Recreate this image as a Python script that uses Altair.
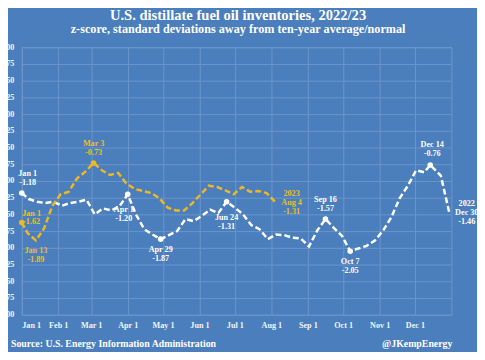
import json
import altair as alt
import pandas as pd

# ---------------- data ----------------
dates_2022 = ["01-01", "01-07", "01-14", "01-21", "01-28", "02-04", "02-11", "02-18", "02-25",
              "03-04", "03-11", "03-18", "03-25", "04-01", "04-08", "04-15", "04-22", "04-29",
              "05-06", "05-13", "05-20", "05-27", "06-03", "06-10", "06-17", "06-24", "07-01",
              "07-08", "07-15", "07-22", "07-29", "08-05", "08-12", "08-19", "08-26", "09-02",
              "09-09", "09-16", "09-23", "09-30", "10-07", "10-14", "10-21", "10-28", "11-04",
              "11-11", "11-18", "11-25", "12-02", "12-09", "12-14", "12-23", "12-30"]
values_2022 = [-1.18, -1.27, -1.31, -1.33, -1.31, -1.37, -1.33, -1.31, -1.28,
               -1.50, -1.41, -1.44, -1.38, -1.20, -1.50, -1.72, -1.80, -1.87,
               -1.81, -1.75, -1.57, -1.60, -1.52, -1.43, -1.48, -1.31, -1.40,
               -1.50, -1.66, -1.72, -1.87, -1.80, -1.81, -1.85, -1.86, -1.98,
               -1.74, -1.57, -1.70, -1.82, -2.05, -2.01, -1.97, -1.89, -1.74,
               -1.54, -1.26, -1.07, -0.84, -0.87, -0.76, -0.92, -1.46]

dates_2023 = ["01-01", "01-06", "01-13", "01-20", "01-27", "02-03", "02-10", "02-17", "02-24",
              "03-03", "03-10", "03-17", "03-24", "03-31", "04-07", "04-14", "04-21", "04-28",
              "05-05", "05-12", "05-19", "05-26", "06-02", "06-09", "06-16", "06-23", "06-30",
              "07-07", "07-14", "07-21", "07-28", "08-04"]
values_2023 = [-1.62, -1.78, -1.89, -1.71, -1.37, -1.20, -1.16, -0.96, -0.86,
               -0.73, -0.84, -0.91, -0.88, -1.04, -1.12, -1.15, -1.18, -1.26,
               -1.40, -1.44, -1.44, -1.33, -1.20, -1.07, -1.09, -1.14, -1.20,
               -1.09, -1.16, -1.15, -1.18, -1.31]

marked_2022 = ["01-01", "04-01", "04-29", "06-24", "09-16", "10-07", "12-14"]
marked_2023 = ["01-01", "03-03"]

month_starts = [0, 31, 59, 90, 120, 151, 181, 212, 243, 273, 304, 334]
month_labels = ["Jan 1", "Feb 1", "Mar 1", "Apr 1", "May 1", "Jun 1",
                "Jul 1", "Aug 1", "Sep 1", "Oct 1", "Nov 1", "Dec 1"]
y_ticks = [1.0, 0.75, 0.5, 0.25, 0.0, -0.25, -0.5, -0.75, -1.0, -1.25, -1.5,
           -1.75, -2.0, -2.25, -2.5, -2.75, -3.0]

TITLE = "U.S. distillate fuel oil inventories, 2022/23"
SUBTITLE = "z-score, standard deviations away from ten-year average/normal"
SOURCE = "Source: U.S. Energy Information Administration"
CREDIT = "@JKempEnergy"

# ---------------- styles ----------------
BG = "#4a7ebc"
GRID = "#6c96ca"
WHITE = "#ffffff"
GOLD = "#f0b820"
GOLD_TXT = "#efbd2a"
FONT = "Liberation Serif"


def to_df(dates, values, year):
    d = pd.DataFrame({"md": dates, "value": values})
    dt = pd.to_datetime("2022-" + d["md"])
    d["doy"] = (dt - pd.Timestamp("2022-01-01")).dt.days
    d["series"] = year
    d["mdlabel"] = dt.dt.strftime("%b ") + dt.dt.day.astype(str)
    d["vlabel"] = d["value"].map(lambda v: f"{v:.2f}")
    return d


df22 = to_df(dates_2022, values_2022, "2022")
df23 = to_df(dates_2023, values_2023, "2023")

label_expr = f"{json.dumps(month_labels)}[indexof({json.dumps(month_starts)}, datum.value)]"

X = alt.X("doy:Q", scale=alt.Scale(domain=[0, 365], nice=False, zero=False),
          axis=alt.Axis(values=month_starts, tickCount=40, labelExpr=label_expr, title=None,
                        grid=True, ticks=False, tickSize=0, domain=False,
                        labelPadding=6, labelOverlap=False))
Y = alt.Y("value:Q", scale=alt.Scale(domain=[-3, 1], nice=False, zero=False),
          axis=alt.Axis(values=y_ticks, tickCount=40, format=".2f", title=None, grid=True,
                        ticks=False, tickSize=0, domain=False, labelPadding=8,
                        labelOverlap=False))

line22 = alt.Chart(df22).mark_line(color=WHITE, strokeWidth=2.5, strokeDash=[6, 3]).encode(
    x=X, y=Y, order="doy:Q")
line23 = alt.Chart(df23).mark_line(color=GOLD, strokeWidth=2.5, strokeDash=[6, 3]).encode(
    x="doy:Q", y="value:Q", order="doy:Q")

pts22 = alt.Chart(df22[df22.md.isin(marked_2022)]).mark_circle(
    color=WHITE, opacity=1, size=32).encode(x="doy:Q", y="value:Q")
pts23 = alt.Chart(df23[df23.md.isin(marked_2023)]).mark_circle(
    color=GOLD, opacity=1, size=32).encode(x="doy:Q", y="value:Q")


def ann(df, md, color, dx, rows):
    base = alt.Chart(df[df.md == md])
    out = []
    for field, dy in rows:
        out.append(base.mark_text(dx=dx, dy=dy, color=color, font=FONT, fontSize=8.3,
                                  fontWeight="bold").encode(
            x="doy:Q", y="value:Q", text=f"{field}:N"))
    return out


labels = []
labels += ann(df22, "01-01", WHITE, 6, [("mdlabel", -19), ("vlabel", -10)])
labels += ann(df22, "04-01", WHITE, -4, [("mdlabel", 16), ("vlabel", 25)])
labels += ann(df22, "04-29", WHITE, 0, [("mdlabel", 11), ("vlabel", 20)])
labels += ann(df22, "06-24", WHITE, 0, [("mdlabel", 17), ("vlabel", 26)])
labels += ann(df22, "09-16", WHITE, 0, [("mdlabel", -19), ("vlabel", -10)])
labels += ann(df22, "10-07", WHITE, 0, [("mdlabel", 11), ("vlabel", 20)])
labels += ann(df22, "12-14", WHITE, 2, [("mdlabel", -20), ("vlabel", -11)])
labels += ann(df22, "12-30", WHITE, 18, [("series", -8), ("mdlabel", 1), ("vlabel", 10)])
labels += ann(df23, "01-01", GOLD_TXT, 10, [("mdlabel", -9), ("vlabel", 0)])
labels += ann(df23, "01-13", GOLD_TXT, 0, [("mdlabel", 11), ("vlabel", 20)])
labels += ann(df23, "03-03", GOLD_TXT, 0, [("mdlabel", -19), ("vlabel", -10)])
labels += ann(df23, "08-04", GOLD_TXT, 17, [("series", -8), ("mdlabel", 1), ("vlabel", 10)])


def free_text(txt, x, y, size, align="center"):
    return alt.Chart(pd.DataFrame({"t": [txt]})).mark_text(
        font=FONT, fontSize=size, fontWeight="bold", color=WHITE, align=align,
        baseline="alphabetic").encode(text="t:N", x=alt.value(x), y=alt.value(y))


texts = [
    free_text(TITLE, 220, -28, 14.8),
    free_text(SUBTITLE, 220, -14.5, 12.4),
    free_text(SOURCE, -11, 305, 10, "left"),
    free_text(CREDIT, 438, 305, 10, "right"),
]

chart = alt.layer(line22, line23, pts22, pts23, *labels, *texts).properties(
    width=437, height=272,
    autosize=alt.AutoSizeParams(type="none"),
    padding={"left": 14, "top": 37, "right": 26, "bottom": 35},
    background=BG,
).configure_view(stroke=GRID, strokeWidth=1).configure_axis(
    gridColor=GRID, gridWidth=1, gridOpacity=1,
    labelColor="#f2f5fa", labelFont=FONT, labelFontSize=8.3, labelFontWeight="bold",
)

chart.save("out.html", embed_options={"renderer": "svg", "actions": False})
